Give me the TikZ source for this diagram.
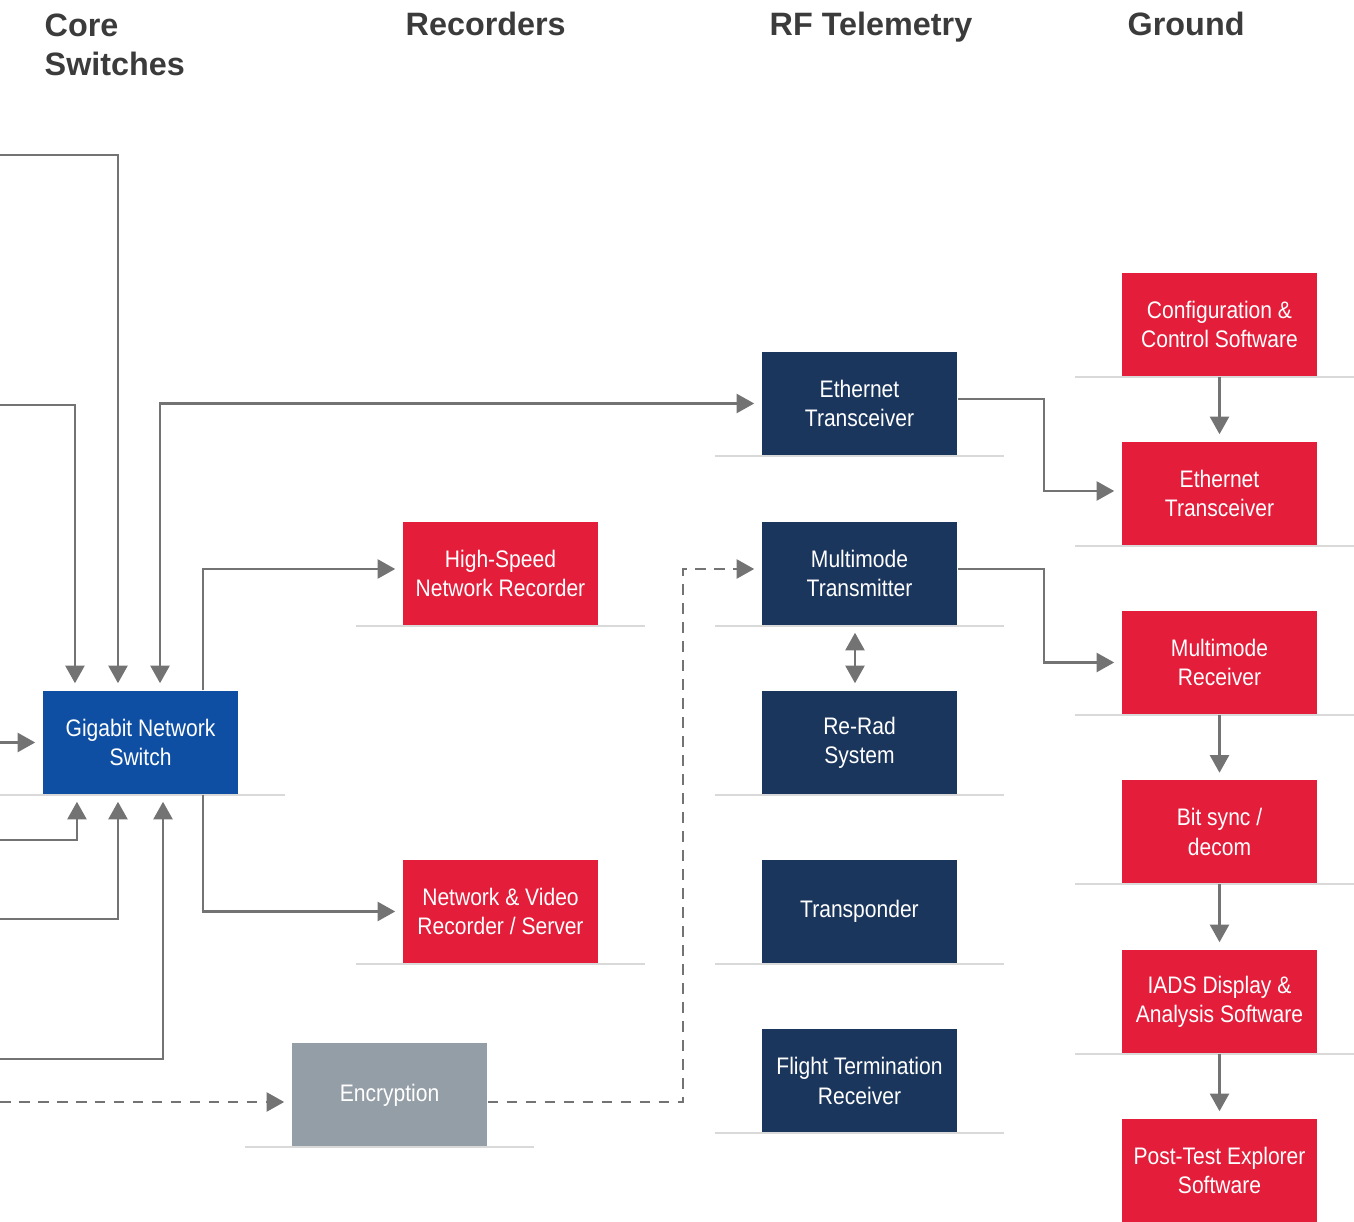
\documentclass[tikz,border=0pt]{standalone}
\usepackage{fontspec}
\setmainfont{Liberation Sans}
\newfontfamily\boxfont[FakeStretch=0.88]{Liberation Sans}
\usetikzlibrary{arrows.meta}
\definecolor{navy}{HTML}{1B365D}
\definecolor{swblue}{HTML}{0F4FA3}
\definecolor{gndred}{HTML}{E31D3A}
\definecolor{encgray}{HTML}{949EA6}
\definecolor{linegray}{HTML}{737373}
\definecolor{rulegray}{HTML}{D9D9D9}
\definecolor{headgray}{HTML}{3B3B3B}
\tikzstyle{box}=[rectangle,inner sep=0pt,minimum width=1.95cm,minimum height=1.03cm,align=center,text=white,font=\boxfont\fontsize{6.8}{8.3}\selectfont]
\tikzstyle{rfbox}=[box,fill=navy]
\tikzstyle{gndbox}=[box,fill=gndred]
\tikzstyle{recbox}=[box,fill=gndred]
\tikzstyle{swbox}=[box,fill=swblue]
\tikzstyle{encbox}=[box,fill=encgray]
\tikzstyle{head}=[anchor=base west,inner sep=0pt,align=left,text=headgray,font=\bfseries\fontsize{9.2}{11.3}\selectfont]
\tikzstyle{conn}=[draw=linegray,line width=0.7pt,shorten >=2pt,shorten <=2pt]
\tikzstyle{dconn}=[conn,dash pattern=on 3pt off 2.4pt]
\tikzstyle{uline}=[draw=rulegray,line width=0.45pt]

\begin{document}
\begin{tikzpicture}[x=0.01cm,y=-0.01cm,>={Triangle[length=5pt,width=5.4pt]}]
\useasboundingbox (0,0) rectangle (1354,1222);

% column titles
\node[head] at (44,76) (hcore) {Core\\Switches};
\node[head] at (405,36) (hrec) {Recorders};
\node[head] at (769,36) (hrf) {RF Telemetry};
\node[head] at (1127,36) (hgnd) {Ground};

\node[swbox] at (140.5,742.5) (sw) {Gigabit Network\\Switch};

\node[recbox] at (500.5,573.5) (hsr) {High-Speed\\Network Recorder};
\node[recbox] at (500.5,911.5) (nvr) {Network \& Video\\Recorder / Server};
\node[encbox] at (389.5,1095) (enc) {Encryption};

\node[rfbox] at (859.5,403.5) (eth) {Ethernet\\Transceiver};
\node[rfbox] at (859.5,573.5) (mmt) {Multimode\\Transmitter};
\node[rfbox] at (859.5,742.5) (rerad) {Re-Rad\\System};
\node[rfbox] at (859.5,911.5) (xpdr) {Transponder};
\node[rfbox] at (859.5,1081) (ftr) {Flight Termination\\Receiver};

\node[gndbox] at (1219.5,324.5) (cfg) {Configuration \&\\Control Software};
\node[gndbox] at (1219.5,493.5) (geth) {Ethernet\\Transceiver};
\node[gndbox] at (1219.5,662.5) (mmr) {Multimode\\Receiver};
\node[gndbox] at (1219.5,832) (bsd) {Bit sync /\\decom};
\node[gndbox] at (1219.5,1001.5) (iads) {IADS Display \&\\Analysis Software};
\node[gndbox] at (1219.5,1170.5) (pte) {Post-Test Explorer\\Software};

% rules under the boxes
\foreach \n in {sw,hsr,nvr,enc,eth,mmt,rerad,xpdr,ftr,cfg,geth,mmr,bsd,iads,pte}
  \draw[uline] ([xshift=-0.46cm]\n.south west) -- ([xshift=0.46cm]\n.south east);

% loose ends on the left
\coordinate (in1) at (0,155);
\coordinate (in2) at (0,405);
\coordinate (in3) at (0,742.5);
\coordinate (in4) at (0,840);
\coordinate (in5) at (0,919);
\coordinate (in6) at (0,1059);
\coordinate (in7) at (0,1102);

\draw[conn,->,shorten <=0pt] (in1) -| ([xshift=-0.225cm]sw.north);
\draw[conn,->,shorten <=0pt] (in2) -| ([xshift=-0.655cm]sw.north);
\draw[conn,->,shorten <=0pt] (in3) -- (sw.west);
\draw[conn,->,shorten <=0pt] (in4) -| ([xshift=-0.635cm]sw.south);
\draw[conn,->,shorten <=0pt] (in5) -| ([xshift=-0.225cm]sw.south);
\draw[conn,->,shorten <=0pt] (in6) -| ([xshift=0.225cm]sw.south);

\draw[conn,<->] ([xshift=0.195cm]sw.north) |- (eth.west);
\draw[conn,->,shorten <=0pt] ([xshift=0.625cm]sw.north) |- ([yshift=0.045cm]hsr.west);
\draw[conn,->,shorten <=0pt] ([xshift=0.625cm]sw.south) |- (nvr.west);

\draw[dconn,->,shorten <=0pt] (in7) -- (in7 -| enc.west);
\draw[dconn,->,shorten <=0pt] (enc.east |- in7) -| ([xshift=-0.78cm,yshift=0.045cm]mmt.west) -- ([yshift=0.045cm]mmt.west);

\draw[conn,<->] ([xshift=-0.045cm]mmt.south) -- ([xshift=-0.045cm]rerad.north);

\draw[conn,->,shorten <=0pt] ([yshift=0.045cm]eth.east) -| ([xshift=-0.77cm,yshift=0.025cm]geth.west) -- ([yshift=0.025cm]geth.west);
\draw[conn,->,shorten <=0pt] ([yshift=0.045cm]mmt.east) -| ([xshift=-0.77cm]mmr.west) -- (mmr.west);

\foreach \a/\b in {cfg/geth,mmr/bsd,bsd/iads,iads/pte}
  \draw[conn,->,shorten <=0pt] (\a) -- (\b);

\end{tikzpicture}
\end{document}
